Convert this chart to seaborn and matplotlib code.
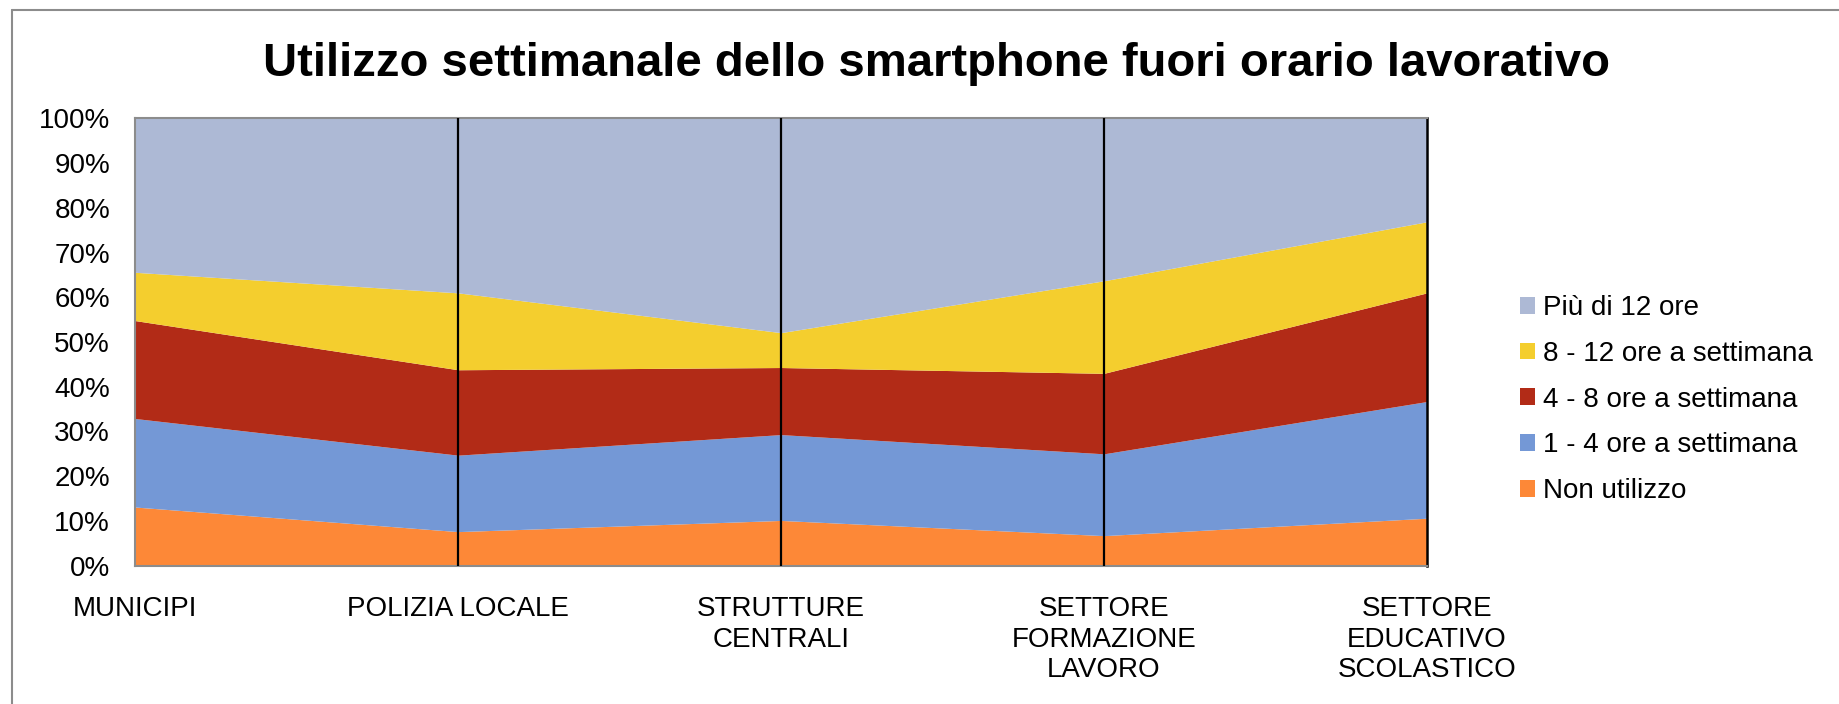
import numpy as np
import seaborn as sns
import matplotlib.pyplot as plt
from matplotlib.lines import Line2D
from matplotlib.patches import Patch

categories = ["MUNICIPI", "POLIZIA LOCALE", "STRUTTURE\nCENTRALI",
              "SETTORE\nFORMAZIONE\nLAVORO", "SETTORE\nEDUCATIVO\nSCOLASTICO"]
series_names = ["Non utilizzo", "1 - 4 ore a settimana", "4 - 8 ore a settimana",
                "8 - 12 ore a settimana", "Più di 12 ore"]
non_utilizzo = [13.1, 7.6, 10.1, 6.7, 10.6]
ore_1_4 = [19.8, 17.1, 19.2, 18.3, 26.1]
ore_4_8 = [21.9, 19.1, 15.0, 18.0, 24.3]
ore_8_12 = [10.8, 17.2, 7.8, 20.7, 15.9]
oltre_12 = [34.4, 39.0, 47.9, 36.3, 23.1]
colors = ["#FD8837", "#7498D6", "#B22B17", "#F4CE2E", "#ADB9D5"]

sns.set_style("white", {"text.color": "black", "xtick.color": "black",
                        "ytick.color": "black"})
plt.rcParams["font.family"] = ["Liberation Sans", "DejaVu Sans"]

fig = plt.figure(figsize=(18.4, 7.04), dpi=100)
ax = fig.add_axes([0.0734, 0.1966, 0.7021, 0.6351])

x = np.arange(len(categories))
ax.stackplot(x, non_utilizzo, ore_1_4, ore_4_8, ore_8_12, oltre_12,
             colors=colors, linewidth=0)
for i in range(1, len(categories) - 1):
    ax.axvline(i, color="black", lw=1.6, zorder=3)

ax.set_xlim(0, len(categories) - 1)
ax.set_ylim(0, 100)
ax.set_yticks(np.arange(0, 101, 10))
ax.set_yticklabels([f"{v}%" for v in range(0, 101, 10)], fontsize=20)
ax.set_xticks(x)
ax.set_xticklabels(categories, fontsize=20, linespacing=1.22, ha="center")
ax.tick_params(axis="y", length=0, pad=18)
ax.tick_params(axis="x", length=0, pad=22)
for s in ["left", "top", "bottom"]:
    ax.spines[s].set_color("#8c8c8c")
    ax.spines[s].set_linewidth(1.5)
ax.spines["right"].set_color("black")
ax.spines["right"].set_linewidth(1.8)

fig.suptitle("Utilizzo settimanale dello smartphone fuori orario lavorativo",
             x=0.509, y=0.94, fontsize=34, fontweight="bold", color="black")

handles = [Patch(facecolor=c, edgecolor="none") for c in colors][::-1]
fig.legend(handles, series_names[::-1], loc="center left",
           bbox_to_anchor=(0.826, 0.4325), frameon=False, fontsize=20,
           handlelength=0.55, handleheight=0.55, handletextpad=0.3,
           labelspacing=0.71, borderpad=0, borderaxespad=0)

# chart area border (left and top edges visible)
fig.add_artist(Line2D([0.0065, 0.0065], [0, 0.986], color="#8c8c8c", lw=1.5))
fig.add_artist(Line2D([0.0065, 1.0], [0.986, 0.986], color="#8c8c8c", lw=1.5))

fig.savefig("out.png", dpi=100, facecolor="white")
